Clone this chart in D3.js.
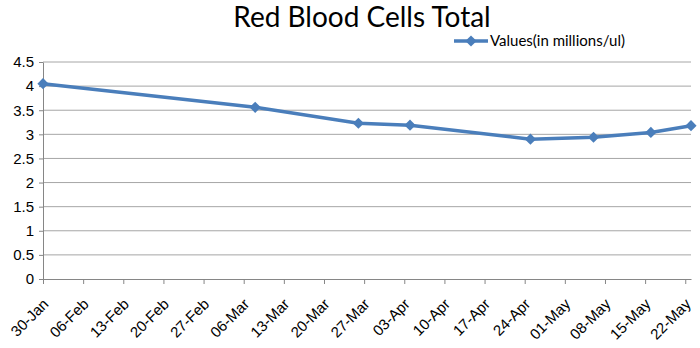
<!DOCTYPE html>
<html lang="en">
<head>
	<meta charset="utf-8">
	<title>Red Blood Cells Total</title>
	<script src='https://d3js.org/d3.v7.min.js'></script>
	<style>
		body { margin: 0; background: #fff; }
		svg { font-family: Lato, "Open Sans", sans-serif; }
		.axis path, .axis .tick line { stroke: #868686; }
		.axis .tick text { fill: #000; font-size: 15px; }
		.grid line { stroke: #a6a6a6; }
	</style>
</head>
<body>
	<div id="chart"></div>
	<script>
		// data
		const dates = ["2013-01-30", "2013-03-08", "2013-03-26", "2013-04-04",
		               "2013-04-25", "2013-05-06", "2013-05-16", "2013-05-23"];
		const values = [4.05, 3.56, 3.23, 3.19, 2.90, 2.94, 3.04, 3.18];
		const yTicks = [0, 0.5, 1, 1.5, 2, 2.5, 3, 3.5, 4, 4.5];
		const seriesName = "Values(in millions/ul)";
		const title = "Red Blood Cells Total";

		const width = 700;
		const height = 348;
		const parse = d3.timeParse("%Y-%m-%d");
		const points = dates.map(function(d, i) { return { date: parse(d), value: values[i] }; });

		const plotLeft = 43, plotRight = 691, plotTop = 62, plotBottom = 279;

		const svg = d3.select("#chart")
					.append("svg")
					.attr("width", width)
					.attr("height", height);

		const x = d3.scaleTime()
					.domain(d3.extent(points, function(d) { return d.date; }))
					.range([plotLeft, plotRight]);
		const y = d3.scaleLinear()
					.domain([0, 4.5])
					.range([plotBottom, plotTop]);

		// horizontal gridlines
		svg.append("g")
			.attr("class", "grid")
			.selectAll("line")
			.data(yTicks.slice(1))
			.enter()
			.append("line")
			.attr("x1", plotLeft)
			.attr("x2", plotRight)
			.attr("y1", function(d) { return y(d); })
			.attr("y2", function(d) { return y(d); });

		// y axis
		const yAxis = d3.axisLeft(y).tickValues(yTicks).tickSize(4).tickSizeOuter(0).tickPadding(5)
					.tickFormat(function(d) { return String(d); });
		svg.append("g")
			.attr("class", "axis")
			.attr("transform", "translate(" + plotLeft + ",0)")
			.call(yAxis);

		// x axis, weekly ticks from the first date
		const xTicks = d3.timeDay.range(points[0].date, d3.timeDay.offset(points[points.length - 1].date, 1), 7);
		const xAxis = d3.axisBottom(x).tickValues(xTicks).tickSize(5).tickSizeOuter(0)
					.tickFormat(d3.timeFormat("%d-%b"));
		const gx = svg.append("g")
			.attr("class", "axis")
			.attr("transform", "translate(0," + plotBottom + ")")
			.call(xAxis);
		gx.selectAll(".tick text")
			.attr("text-anchor", "end")
			.attr("dy", null)
			.attr("y", 0)
			.attr("transform", "translate(6,26) rotate(-45)");

		// series
		const line = d3.line()
					.x(function(d) { return x(d.date); })
					.y(function(d) { return y(d.value); });
		svg.append("path")
			.datum(points)
			.attr("fill", "none")
			.attr("stroke", "#4a7ebb")
			.attr("stroke-width", 3.5)
			.attr("d", line);

		const diamond = d3.symbol().type(d3.symbolDiamond2).size(80);
		svg.selectAll("path.marker")
			.data(points)
			.enter()
			.append("path")
			.attr("class", "marker")
			.attr("fill", "#4a7ebb")
			.attr("d", diamond)
			.attr("transform", function(d) { return "translate(" + x(d.date) + "," + y(d.value) + ")"; });

		// title
		svg.append("text")
			.attr("x", 362)
			.attr("y", 27)
			.attr("text-anchor", "middle")
			.style("font-size", "28px")
			.text(title);

		// legend
		const legend = svg.append("g").attr("transform", "translate(454,41)");
		legend.append("line")
			.attr("x1", 0).attr("x2", 34)
			.attr("stroke", "#4a7ebb").attr("stroke-width", 3.5);
		legend.append("path")
			.attr("fill", "#4a7ebb")
			.attr("d", diamond)
			.attr("transform", "translate(17,0)");
		legend.append("text")
			.attr("x", 36)
			.attr("y", 5)
			.style("font-size", "15px")
			.text(seriesName);
	</script>
</body>
</html>
